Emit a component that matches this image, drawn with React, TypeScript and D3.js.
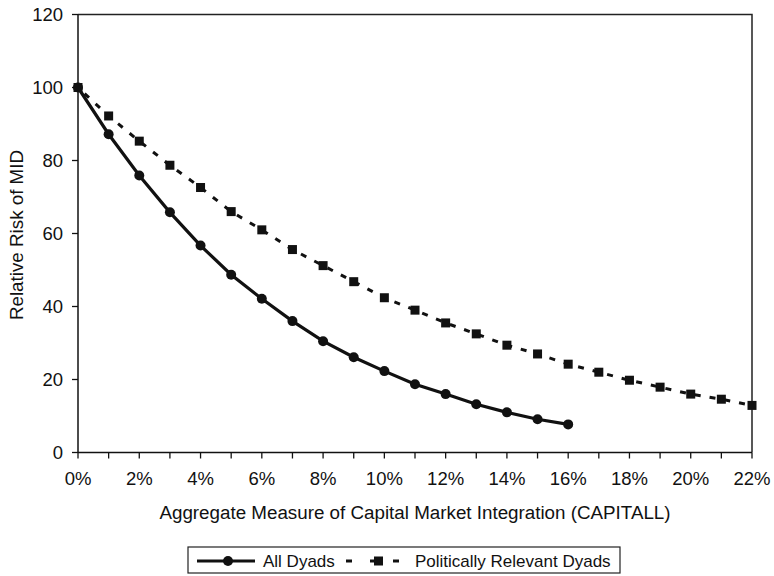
import React, { useEffect, useRef } from 'react';
import * as d3 from 'd3';

// x values in percent
const allX = [0, 1, 2, 3, 4, 5, 6, 7, 8, 9, 10, 11, 12, 13, 14, 15, 16];
const allDyads = [100, 87.2, 75.9, 65.8, 56.7, 48.7, 42.1, 36, 30.5, 26.1, 22.3, 18.7, 16, 13.2, 11, 9.1, 7.7];

const prX = [0, 1, 2, 3, 4, 5, 6, 7, 8, 9, 10, 11, 12, 13, 14, 15, 16, 17, 18, 19, 20, 21, 22];
const prDyads = [100, 92.2, 85.3, 78.7, 72.6, 66, 61, 55.6, 51.2, 46.8, 42.4, 39, 35.5, 32.5, 29.4, 27, 24.2, 22, 19.8, 17.9, 16, 14.6, 12.9];

const yTicks = [0, 20, 40, 60, 80, 100, 120];
const xLabelTicks = [0, 2, 4, 6, 8, 10, 12, 14, 16, 18, 20, 22];
const xMinorTicks = d3.range(0, 23, 1);

const FONT = 'Liberation Sans, Arial, sans-serif';

const App = () => {
  const svgRef = useRef<SVGSVGElement>(null);

  useEffect(() => {
    const svg = d3.select(svgRef.current);
    svg.selectAll('*').remove();

    const left = 78, right = 752, top = 14.5, bottom = 452.5;

    const x = d3.scaleLinear().domain([0, 22]).range([left, right]);
    const y = d3.scaleLinear().domain([0, 120]).range([bottom, top]);

    // frame: top and right lines
    svg.append('path')
      .attr('d', `M${left},${top}H${right}V${bottom}`)
      .attr('fill', 'none')
      .attr('stroke', '#222')
      .attr('stroke-width', 1.5);

    // x axis
    const xAxis = svg.append('g').attr('transform', `translate(0,${bottom})`);
    xAxis.append('line').attr('x1', left).attr('x2', right).attr('stroke', '#111').attr('stroke-width', 1.5);
    xAxis.selectAll('.xt').data(xMinorTicks).enter().append('line')
      .attr('x1', d => x(d)).attr('x2', d => x(d)).attr('y1', 0).attr('y2', 6)
      .attr('stroke', '#111').attr('stroke-width', 1.3);
    xAxis.selectAll('.xl').data(xLabelTicks).enter().append('text')
      .attr('x', d => x(d)).attr('y', 32)
      .attr('text-anchor', 'middle')
      .attr('font-family', FONT).attr('font-size', 18.5).attr('fill', '#111')
      .text(d => `${d}%`);

    // y axis
    const yAxis = svg.append('g').attr('transform', `translate(${left},0)`);
    yAxis.append('line').attr('y1', top).attr('y2', bottom).attr('stroke', '#111').attr('stroke-width', 1.5);
    yAxis.selectAll('.yt').data(yTicks).enter().append('line')
      .attr('x1', -6).attr('x2', 0).attr('y1', d => y(d)).attr('y2', d => y(d))
      .attr('stroke', '#111').attr('stroke-width', 1.3);
    yAxis.selectAll('.yl').data(yTicks).enter().append('text')
      .attr('x', -15).attr('y', d => y(d) + 6.5)
      .attr('text-anchor', 'end')
      .attr('font-family', FONT).attr('font-size', 18.5).attr('fill', '#111')
      .text(d => d);

    // axis titles
    svg.append('text')
      .attr('x', 415).attr('y', 519)
      .attr('text-anchor', 'middle')
      .attr('font-family', FONT).attr('font-size', 18.8).attr('fill', '#111')
      .text('Aggregate Measure of Capital Market Integration (CAPITALL)');
    svg.append('text')
      .attr('transform', `translate(23,235) rotate(-90)`)
      .attr('text-anchor', 'middle')
      .attr('font-family', FONT).attr('font-size', 18.8).attr('fill', '#111')
      .text('Relative Risk of MID');

    const line = d3.line<[number, number]>().x(d => x(d[0])).y(d => y(d[1]));

    // politically relevant dyads: dashed with squares
    const prData = prX.map((v, i) => [v, prDyads[i]] as [number, number]);
    svg.append('path')
      .attr('d', line(prData))
      .attr('fill', 'none')
      .attr('stroke', '#111')
      .attr('stroke-width', 3)
      .attr('stroke-dasharray', '6,9')
      .attr('stroke-dashoffset', -9);
    svg.selectAll('.sq').data(prData).enter().append('rect')
      .attr('x', d => x(d[0]) - 4.5).attr('y', d => y(d[1]) - 4.5)
      .attr('width', 9).attr('height', 9)
      .attr('fill', '#111');

    // all dyads: solid with circles
    const allData = allX.map((v, i) => [v, allDyads[i]] as [number, number]);
    svg.append('path')
      .attr('d', line(allData))
      .attr('fill', 'none')
      .attr('stroke', '#111')
      .attr('stroke-width', 3.2);
    svg.selectAll('.ci').data(allData).enter().append('circle')
      .attr('cx', d => x(d[0])).attr('cy', d => y(d[1]))
      .attr('r', 5)
      .attr('fill', '#111');

    // legend
    const lg = svg.append('g');
    lg.append('rect')
      .attr('x', 188).attr('y', 547).attr('width', 432).attr('height', 26)
      .attr('fill', 'white').attr('stroke', '#222').attr('stroke-width', 1.2);
    const ly = 561;
    lg.append('line').attr('x1', 197).attr('x2', 255).attr('y1', ly).attr('y2', ly)
      .attr('stroke', '#111').attr('stroke-width', 3.2);
    lg.append('circle').attr('cx', 228).attr('cy', ly).attr('r', 5).attr('fill', '#111');
    lg.append('text').attr('x', 263).attr('y', 567)
      .attr('font-family', FONT).attr('font-size', 17).attr('fill', '#111')
      .text('All Dyads');
    lg.append('line').attr('x1', 346).attr('x2', 352).attr('y1', ly).attr('y2', ly)
      .attr('stroke', '#111').attr('stroke-width', 3);
    lg.append('line').attr('x1', 370).attr('x2', 380).attr('y1', ly).attr('y2', ly)
      .attr('stroke', '#111').attr('stroke-width', 3);
    lg.append('rect').attr('x', 374).attr('y', ly - 4.5).attr('width', 9).attr('height', 9).attr('fill', '#111');
    lg.append('line').attr('x1', 393).attr('x2', 399).attr('y1', ly).attr('y2', ly)
      .attr('stroke', '#111').attr('stroke-width', 3);
    lg.append('text').attr('x', 415).attr('y', 567)
      .attr('font-family', FONT).attr('font-size', 17).attr('fill', '#111')
      .text('Politically Relevant Dyads');
  }, []);

  return (
    <svg ref={svgRef} width={774} height={576}
      style={{ position: 'absolute', left: 0, top: 0, background: 'white' }} />
  );
};

export default App;
